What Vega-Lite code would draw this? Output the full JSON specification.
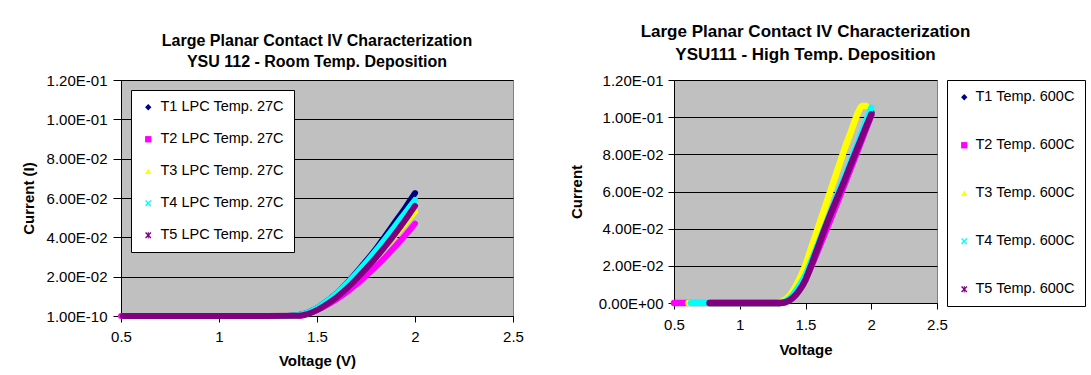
{
  "$schema": "https://vega.github.io/schema/vega-lite/v6.json",
  "background": "white",
  "padding": {"left": 20, "top": 22, "right": 5, "bottom": 5},
  "bounds": "flush",
  "spacing": 161,
  "config": {
    "font": "Liberation Sans",
    "view": {"fill": "#C0C0C0", "stroke": "#808080", "strokeWidth": 1},
    "axis": {
      "labelFont": "Liberation Sans", "labelFontSize": 15, "labelColor": "black", "labelFlush": false,
      "titleFont": "Liberation Sans", "titleFontSize": 15, "titleFontWeight": "bold", "titleColor": "black",
      "domainColor": "black", "tickColor": "black", "gridColor": "black", "gridOpacity": 1
    },
    "legend": {"labelFont": "Liberation Sans", "labelFontSize": 14.5, "labelColor": "black", "symbolOpacity": 1, "symbolStrokeWidth": 0},
    "title": {"font": "Liberation Sans", "fontWeight": "bold", "color": "black", "anchor": "middle"}
  },
  "datasets": {
    "left": [
      {"series": "T1 LPC Temp. 27C", "voltage": 0.52, "current": 0},
      {"series": "T1 LPC Temp. 27C", "voltage": 1.0, "current": 0},
      {"series": "T1 LPC Temp. 27C", "voltage": 1.35, "current": 0},
      {"series": "T1 LPC Temp. 27C", "voltage": 1.4, "current": 0.0004},
      {"series": "T1 LPC Temp. 27C", "voltage": 1.45, "current": 0.0016},
      {"series": "T1 LPC Temp. 27C", "voltage": 1.5, "current": 0.004},
      {"series": "T1 LPC Temp. 27C", "voltage": 1.55, "current": 0.0075},
      {"series": "T1 LPC Temp. 27C", "voltage": 1.6, "current": 0.0115},
      {"series": "T1 LPC Temp. 27C", "voltage": 1.65, "current": 0.0165},
      {"series": "T1 LPC Temp. 27C", "voltage": 1.7, "current": 0.022},
      {"series": "T1 LPC Temp. 27C", "voltage": 1.75, "current": 0.028},
      {"series": "T1 LPC Temp. 27C", "voltage": 1.8, "current": 0.034},
      {"series": "T1 LPC Temp. 27C", "voltage": 1.85, "current": 0.041},
      {"series": "T1 LPC Temp. 27C", "voltage": 1.9, "current": 0.048},
      {"series": "T1 LPC Temp. 27C", "voltage": 1.95, "current": 0.055},
      {"series": "T1 LPC Temp. 27C", "voltage": 2.0, "current": 0.0625},
      {"series": "T2 LPC Temp. 27C", "voltage": 0.5, "current": 0},
      {"series": "T2 LPC Temp. 27C", "voltage": 1.0, "current": 0},
      {"series": "T2 LPC Temp. 27C", "voltage": 1.4, "current": 0},
      {"series": "T2 LPC Temp. 27C", "voltage": 1.45, "current": 0.001},
      {"series": "T2 LPC Temp. 27C", "voltage": 1.5, "current": 0.003},
      {"series": "T2 LPC Temp. 27C", "voltage": 1.55, "current": 0.0055},
      {"series": "T2 LPC Temp. 27C", "voltage": 1.6, "current": 0.0085},
      {"series": "T2 LPC Temp. 27C", "voltage": 1.65, "current": 0.012},
      {"series": "T2 LPC Temp. 27C", "voltage": 1.7, "current": 0.016},
      {"series": "T2 LPC Temp. 27C", "voltage": 1.75, "current": 0.0205},
      {"series": "T2 LPC Temp. 27C", "voltage": 1.8, "current": 0.025},
      {"series": "T2 LPC Temp. 27C", "voltage": 1.85, "current": 0.030},
      {"series": "T2 LPC Temp. 27C", "voltage": 1.9, "current": 0.0355},
      {"series": "T2 LPC Temp. 27C", "voltage": 1.95, "current": 0.041},
      {"series": "T2 LPC Temp. 27C", "voltage": 2.0, "current": 0.047},
      {"series": "T3 LPC Temp. 27C", "voltage": 0.52, "current": 0},
      {"series": "T3 LPC Temp. 27C", "voltage": 1.0, "current": 0},
      {"series": "T3 LPC Temp. 27C", "voltage": 1.35, "current": 0},
      {"series": "T3 LPC Temp. 27C", "voltage": 1.4, "current": 0.0003},
      {"series": "T3 LPC Temp. 27C", "voltage": 1.45, "current": 0.0014},
      {"series": "T3 LPC Temp. 27C", "voltage": 1.5, "current": 0.0035},
      {"series": "T3 LPC Temp. 27C", "voltage": 1.55, "current": 0.0066},
      {"series": "T3 LPC Temp. 27C", "voltage": 1.6, "current": 0.0102},
      {"series": "T3 LPC Temp. 27C", "voltage": 1.65, "current": 0.0147},
      {"series": "T3 LPC Temp. 27C", "voltage": 1.7, "current": 0.0196},
      {"series": "T3 LPC Temp. 27C", "voltage": 1.75, "current": 0.0248},
      {"series": "T3 LPC Temp. 27C", "voltage": 1.8, "current": 0.0300},
      {"series": "T3 LPC Temp. 27C", "voltage": 1.85, "current": 0.0355},
      {"series": "T3 LPC Temp. 27C", "voltage": 1.9, "current": 0.0412},
      {"series": "T3 LPC Temp. 27C", "voltage": 1.95, "current": 0.0470},
      {"series": "T3 LPC Temp. 27C", "voltage": 2.0, "current": 0.0530},
      {"series": "T4 LPC Temp. 27C", "voltage": 0.52, "current": 0},
      {"series": "T4 LPC Temp. 27C", "voltage": 1.0, "current": 0},
      {"series": "T4 LPC Temp. 27C", "voltage": 1.35, "current": 0},
      {"series": "T4 LPC Temp. 27C", "voltage": 1.4, "current": 0.0004},
      {"series": "T4 LPC Temp. 27C", "voltage": 1.45, "current": 0.0016},
      {"series": "T4 LPC Temp. 27C", "voltage": 1.5, "current": 0.004},
      {"series": "T4 LPC Temp. 27C", "voltage": 1.55, "current": 0.0075},
      {"series": "T4 LPC Temp. 27C", "voltage": 1.6, "current": 0.0115},
      {"series": "T4 LPC Temp. 27C", "voltage": 1.65, "current": 0.0163},
      {"series": "T4 LPC Temp. 27C", "voltage": 1.7, "current": 0.0216},
      {"series": "T4 LPC Temp. 27C", "voltage": 1.75, "current": 0.0272},
      {"series": "T4 LPC Temp. 27C", "voltage": 1.8, "current": 0.0332},
      {"series": "T4 LPC Temp. 27C", "voltage": 1.85, "current": 0.0395},
      {"series": "T4 LPC Temp. 27C", "voltage": 1.9, "current": 0.0460},
      {"series": "T4 LPC Temp. 27C", "voltage": 1.95, "current": 0.0525},
      {"series": "T4 LPC Temp. 27C", "voltage": 2.0, "current": 0.059},
      {"series": "T5 LPC Temp. 27C", "voltage": 0.51, "current": 0},
      {"series": "T5 LPC Temp. 27C", "voltage": 1.0, "current": 0},
      {"series": "T5 LPC Temp. 27C", "voltage": 1.4, "current": 0.0001},
      {"series": "T5 LPC Temp. 27C", "voltage": 1.45, "current": 0.001},
      {"series": "T5 LPC Temp. 27C", "voltage": 1.5, "current": 0.003},
      {"series": "T5 LPC Temp. 27C", "voltage": 1.55, "current": 0.006},
      {"series": "T5 LPC Temp. 27C", "voltage": 1.6, "current": 0.0095},
      {"series": "T5 LPC Temp. 27C", "voltage": 1.65, "current": 0.0138},
      {"series": "T5 LPC Temp. 27C", "voltage": 1.7, "current": 0.0187},
      {"series": "T5 LPC Temp. 27C", "voltage": 1.75, "current": 0.024},
      {"series": "T5 LPC Temp. 27C", "voltage": 1.8, "current": 0.0296},
      {"series": "T5 LPC Temp. 27C", "voltage": 1.85, "current": 0.0356},
      {"series": "T5 LPC Temp. 27C", "voltage": 1.9, "current": 0.0420},
      {"series": "T5 LPC Temp. 27C", "voltage": 1.95, "current": 0.0488},
      {"series": "T5 LPC Temp. 27C", "voltage": 2.0, "current": 0.056}
    ],
    "right": [
      {"series": "T1 Temp. 600C", "voltage": 0.77, "current": 0},
      {"series": "T1 Temp. 600C", "voltage": 1.0, "current": 0},
      {"series": "T1 Temp. 600C", "voltage": 1.3, "current": 0},
      {"series": "T1 Temp. 600C", "voltage": 1.35, "current": 0.0008},
      {"series": "T1 Temp. 600C", "voltage": 1.4, "current": 0.0035},
      {"series": "T1 Temp. 600C", "voltage": 1.45, "current": 0.008},
      {"series": "T1 Temp. 600C", "voltage": 1.5, "current": 0.0135},
      {"series": "T1 Temp. 600C", "voltage": 1.55, "current": 0.0215},
      {"series": "T1 Temp. 600C", "voltage": 1.6, "current": 0.030},
      {"series": "T1 Temp. 600C", "voltage": 1.65, "current": 0.0388},
      {"series": "T1 Temp. 600C", "voltage": 1.7, "current": 0.0476},
      {"series": "T1 Temp. 600C", "voltage": 1.75, "current": 0.0566},
      {"series": "T1 Temp. 600C", "voltage": 1.8, "current": 0.0656},
      {"series": "T1 Temp. 600C", "voltage": 1.85, "current": 0.0746},
      {"series": "T1 Temp. 600C", "voltage": 1.9, "current": 0.0838},
      {"series": "T1 Temp. 600C", "voltage": 1.95, "current": 0.0930},
      {"series": "T1 Temp. 600C", "voltage": 2.0, "current": 0.1025},
      {"series": "T2 Temp. 600C", "voltage": 0.5, "current": 0},
      {"series": "T2 Temp. 600C", "voltage": 1.0, "current": 0},
      {"series": "T2 Temp. 600C", "voltage": 1.3, "current": 0},
      {"series": "T2 Temp. 600C", "voltage": 1.35, "current": 0.0006},
      {"series": "T2 Temp. 600C", "voltage": 1.4, "current": 0.003},
      {"series": "T2 Temp. 600C", "voltage": 1.45, "current": 0.0075},
      {"series": "T2 Temp. 600C", "voltage": 1.5, "current": 0.013},
      {"series": "T2 Temp. 600C", "voltage": 1.55, "current": 0.0208},
      {"series": "T2 Temp. 600C", "voltage": 1.6, "current": 0.0293},
      {"series": "T2 Temp. 600C", "voltage": 1.65, "current": 0.038},
      {"series": "T2 Temp. 600C", "voltage": 1.7, "current": 0.0468},
      {"series": "T2 Temp. 600C", "voltage": 1.75, "current": 0.0556},
      {"series": "T2 Temp. 600C", "voltage": 1.8, "current": 0.0645},
      {"series": "T2 Temp. 600C", "voltage": 1.85, "current": 0.0735},
      {"series": "T2 Temp. 600C", "voltage": 1.9, "current": 0.0826},
      {"series": "T2 Temp. 600C", "voltage": 1.95, "current": 0.0918},
      {"series": "T2 Temp. 600C", "voltage": 2.0, "current": 0.101},
      {"series": "T3 Temp. 600C", "voltage": 0.61, "current": 0},
      {"series": "T3 Temp. 600C", "voltage": 1.0, "current": 0},
      {"series": "T3 Temp. 600C", "voltage": 1.28, "current": 0},
      {"series": "T3 Temp. 600C", "voltage": 1.33, "current": 0.001},
      {"series": "T3 Temp. 600C", "voltage": 1.38, "current": 0.004},
      {"series": "T3 Temp. 600C", "voltage": 1.43, "current": 0.0095},
      {"series": "T3 Temp. 600C", "voltage": 1.5, "current": 0.0205},
      {"series": "T3 Temp. 600C", "voltage": 1.55, "current": 0.031},
      {"series": "T3 Temp. 600C", "voltage": 1.6, "current": 0.0415},
      {"series": "T3 Temp. 600C", "voltage": 1.65, "current": 0.052},
      {"series": "T3 Temp. 600C", "voltage": 1.7, "current": 0.0625},
      {"series": "T3 Temp. 600C", "voltage": 1.75, "current": 0.073},
      {"series": "T3 Temp. 600C", "voltage": 1.8, "current": 0.0835},
      {"series": "T3 Temp. 600C", "voltage": 1.85, "current": 0.093},
      {"series": "T3 Temp. 600C", "voltage": 1.9, "current": 0.1025},
      {"series": "T3 Temp. 600C", "voltage": 1.93, "current": 0.106},
      {"series": "T3 Temp. 600C", "voltage": 1.96, "current": 0.106},
      {"series": "T4 Temp. 600C", "voltage": 0.63, "current": 0},
      {"series": "T4 Temp. 600C", "voltage": 1.0, "current": 0},
      {"series": "T4 Temp. 600C", "voltage": 1.3, "current": 0},
      {"series": "T4 Temp. 600C", "voltage": 1.35, "current": 0.001},
      {"series": "T4 Temp. 600C", "voltage": 1.4, "current": 0.004},
      {"series": "T4 Temp. 600C", "voltage": 1.45, "current": 0.009},
      {"series": "T4 Temp. 600C", "voltage": 1.5, "current": 0.015},
      {"series": "T4 Temp. 600C", "voltage": 1.55, "current": 0.0235},
      {"series": "T4 Temp. 600C", "voltage": 1.6, "current": 0.0325},
      {"series": "T4 Temp. 600C", "voltage": 1.65, "current": 0.0415},
      {"series": "T4 Temp. 600C", "voltage": 1.7, "current": 0.0505},
      {"series": "T4 Temp. 600C", "voltage": 1.75, "current": 0.0595},
      {"series": "T4 Temp. 600C", "voltage": 1.8, "current": 0.0685},
      {"series": "T4 Temp. 600C", "voltage": 1.85, "current": 0.0775},
      {"series": "T4 Temp. 600C", "voltage": 1.9, "current": 0.0865},
      {"series": "T4 Temp. 600C", "voltage": 1.95, "current": 0.0957},
      {"series": "T4 Temp. 600C", "voltage": 2.0, "current": 0.105},
      {"series": "T5 Temp. 600C", "voltage": 0.77, "current": 0},
      {"series": "T5 Temp. 600C", "voltage": 1.0, "current": 0},
      {"series": "T5 Temp. 600C", "voltage": 1.3, "current": 0},
      {"series": "T5 Temp. 600C", "voltage": 1.35, "current": 0.0005},
      {"series": "T5 Temp. 600C", "voltage": 1.4, "current": 0.0025},
      {"series": "T5 Temp. 600C", "voltage": 1.45, "current": 0.0065},
      {"series": "T5 Temp. 600C", "voltage": 1.5, "current": 0.0125},
      {"series": "T5 Temp. 600C", "voltage": 1.55, "current": 0.0215},
      {"series": "T5 Temp. 600C", "voltage": 1.6, "current": 0.031},
      {"series": "T5 Temp. 600C", "voltage": 1.65, "current": 0.0405},
      {"series": "T5 Temp. 600C", "voltage": 1.7, "current": 0.0495},
      {"series": "T5 Temp. 600C", "voltage": 1.75, "current": 0.058},
      {"series": "T5 Temp. 600C", "voltage": 1.8, "current": 0.0665},
      {"series": "T5 Temp. 600C", "voltage": 1.85, "current": 0.0755},
      {"series": "T5 Temp. 600C", "voltage": 1.9, "current": 0.0842},
      {"series": "T5 Temp. 600C", "voltage": 1.95, "current": 0.093},
      {"series": "T5 Temp. 600C", "voltage": 2.0, "current": 0.1015}
    ]
  },
  "resolve": {
    "scale": {"color": "independent", "shape": "independent"},
    "legend": {"color": "independent", "shape": "independent"}
  },
  "hconcat": [
    {
      "width": 392,
      "height": 236,
      "title": {
        "text": ["Large Planar Contact IV Characterization", "YSU 112 - Room Temp. Deposition"],
        "fontSize": 16, "lineHeight": 21, "offset": 3
      },
      "data": {"name": "left"},
      "encoding": {
        "x": {
          "field": "voltage", "type": "quantitative",
          "scale": {"domain": [0.5, 2.5], "nice": false, "zero": false},
          "axis": {"title": "Voltage (V)", "values": [0.5, 1, 1.5, 2, 2.5], "format": "~g", "grid": false,
                   "tickSize": 6, "labelPadding": 7, "titlePadding": 9}
        },
        "y": {
          "field": "current", "type": "quantitative",
          "scale": {"domain": [0, 0.12], "nice": false},
          "axis": {"title": "Current (I)", "values": [0, 0.02, 0.04, 0.06, 0.08, 0.1, 0.12],
                   "labelExpr": "datum.value === 0 ? '1.00E-10' : replace(format(datum.value, '.2e'), 'e-', 'E-0')",
                   "grid": true, "tickSize": 8, "labelPadding": 6, "titlePadding": 10}
        }
      },
      "layer": [
        {
          "mark": {"type": "line", "strokeWidth": 6, "interpolate": "monotone", "strokeCap": "round", "strokeJoin": "round"},
          "encoding": {
            "color": {"field": "series", "type": "nominal",
                      "scale": {"domain": ["T1 LPC Temp. 27C", "T2 LPC Temp. 27C", "T3 LPC Temp. 27C", "T4 LPC Temp. 27C", "T5 LPC Temp. 27C"],
                                "range": ["#000080", "#FF00FF", "#FFFF00", "#00FFFF", "#800080"]},
                      "legend": {"title": null, "orient": "top-left", "offset": 10, "fillColor": "white", "strokeColor": "black",
                                 "padding": 10, "rowPadding": 17, "symbolSize": 40, "labelOffset": 5}}
          }
        },
        {
          "mark": {"type": "point", "filled": true, "opacity": 0, "size": 40},
          "encoding": {
            "color": {"field": "series", "type": "nominal",
                      "scale": {"domain": ["T1 LPC Temp. 27C", "T2 LPC Temp. 27C", "T3 LPC Temp. 27C", "T4 LPC Temp. 27C", "T5 LPC Temp. 27C"],
                                "range": ["#000080", "#FF00FF", "#FFFF00", "#00FFFF", "#800080"]},
                      "legend": {"title": null, "orient": "top-left", "offset": 10, "fillColor": "white", "strokeColor": "black",
                                 "padding": 10, "rowPadding": 17, "symbolSize": 40, "labelOffset": 5}},
            "shape": {"field": "series", "type": "nominal",
                      "scale": {"domain": ["T1 LPC Temp. 27C", "T2 LPC Temp. 27C", "T3 LPC Temp. 27C", "T4 LPC Temp. 27C", "T5 LPC Temp. 27C"],
                                "range": ["diamond", "square", "triangle-up",
                                          "M-1,-0.7L-0.7,-1L0,-0.3L0.7,-1L1,-0.7L0.3,0L1,0.7L0.7,1L0,0.3L-0.7,1L-1,0.7L-0.3,0Z",
                                          "M-1,-0.7L-0.7,-1L0,-0.3L0.7,-1L1,-0.7L0.3,0L1,0.7L0.7,1L0,0.3L-0.7,1L-1,0.7L-0.3,0Z M-0.15,-1H0.15V1H-0.15Z"]},
                      "legend": {"title": null, "orient": "top-left", "offset": 10, "fillColor": "white", "strokeColor": "black",
                                 "padding": 10, "rowPadding": 17, "symbolSize": 40, "labelOffset": 5}}
          }
        }
      ]
    },
    {
      "width": 263,
      "height": 223,
      "title": {
        "text": ["Large Planar Contact IV Characterization", "YSU111 - High Temp. Deposition"],
        "fontSize": 17, "lineHeight": 23, "offset": 9
      },
      "data": {"name": "right"},
      "encoding": {
        "x": {
          "field": "voltage", "type": "quantitative",
          "scale": {"domain": [0.5, 2.5], "nice": false, "zero": false},
          "axis": {"title": "Voltage", "values": [0.5, 1, 1.5, 2, 2.5], "format": "~g", "grid": false,
                   "tickSize": 6, "labelPadding": 8, "titlePadding": 10}
        },
        "y": {
          "field": "current", "type": "quantitative",
          "scale": {"domain": [0, 0.12], "nice": false},
          "axis": {"title": "Current", "values": [0, 0.02, 0.04, 0.06, 0.08, 0.1, 0.12],
                   "labelExpr": "replace(replace(format(datum.value, '.2e'), 'e-', 'E-0'), 'e+', 'E+0')",
                   "grid": true, "tickSize": 6, "labelPadding": 5, "titlePadding": 14}
        }
      },
      "layer": [
        {
          "mark": {"type": "line", "strokeWidth": 6.5, "interpolate": "monotone", "strokeCap": "round", "strokeJoin": "round"},
          "encoding": {
            "color": {"field": "series", "type": "nominal",
                      "scale": {"domain": ["T1 Temp. 600C", "T2 Temp. 600C", "T3 Temp. 600C", "T4 Temp. 600C", "T5 Temp. 600C"],
                                "range": ["#000080", "#FF00FF", "#FFFF00", "#00FFFF", "#800080"]},
                      "legend": {"title": null, "orient": "right", "offset": 10, "fillColor": "white", "strokeColor": "black",
                                 "padding": 10, "rowPadding": 33, "symbolSize": 40, "labelOffset": 4}}
          }
        },
        {
          "mark": {"type": "point", "filled": true, "opacity": 0, "size": 40},
          "encoding": {
            "color": {"field": "series", "type": "nominal",
                      "scale": {"domain": ["T1 Temp. 600C", "T2 Temp. 600C", "T3 Temp. 600C", "T4 Temp. 600C", "T5 Temp. 600C"],
                                "range": ["#000080", "#FF00FF", "#FFFF00", "#00FFFF", "#800080"]},
                      "legend": {"title": null, "orient": "right", "offset": 10, "fillColor": "white", "strokeColor": "black",
                                 "padding": 10, "rowPadding": 33, "symbolSize": 40, "labelOffset": 4}},
            "shape": {"field": "series", "type": "nominal",
                      "scale": {"domain": ["T1 Temp. 600C", "T2 Temp. 600C", "T3 Temp. 600C", "T4 Temp. 600C", "T5 Temp. 600C"],
                                "range": ["diamond", "square", "triangle-up",
                                          "M-1,-0.7L-0.7,-1L0,-0.3L0.7,-1L1,-0.7L0.3,0L1,0.7L0.7,1L0,0.3L-0.7,1L-1,0.7L-0.3,0Z",
                                          "M-1,-0.7L-0.7,-1L0,-0.3L0.7,-1L1,-0.7L0.3,0L1,0.7L0.7,1L0,0.3L-0.7,1L-1,0.7L-0.3,0Z M-0.15,-1H0.15V1H-0.15Z"]},
                      "legend": {"title": null, "orient": "right", "offset": 10, "fillColor": "white", "strokeColor": "black",
                                 "padding": 10, "rowPadding": 33, "symbolSize": 40, "labelOffset": 4}}
          }
        }
      ]
    }
  ]
}
